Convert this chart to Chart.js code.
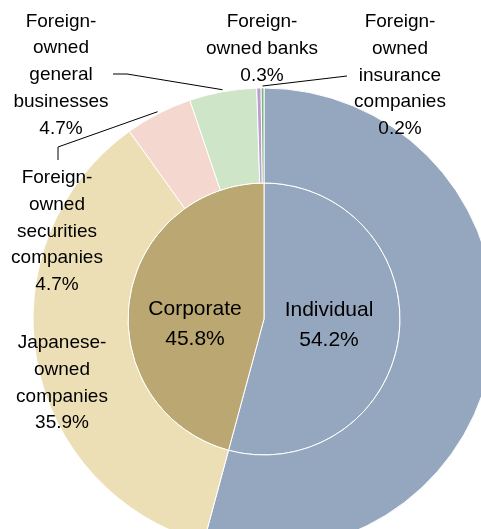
<!DOCTYPE html>
<html lang="en">

<head>
    <meta charset="UTF-8">
    <title>Shareholders by type</title>
    <script src="https://cdn.jsdelivr.net/npm/chart.js"></script>
    <style>
        html, body { margin: 0; padding: 0; background: #fff; overflow: hidden; width: 481px; height: 529px; }
        #pie { position: absolute; left: 0; top: 0; }
    </style>
</head>

<body>
    <canvas id="pie" width="528" height="638"></canvas>

    <script>
        // inner pie: individual vs corporate
        const innerLabels = ['Individual', 'Corporate'];
        const innerValues = [54.2, 45.8];
        const innerColors = ['#95a7bf', '#bba771'];

        // outer ring: corporate split by owner type
        const outerLabels = [
            'Individual',
            'Japanese-owned companies',
            'Foreign-owned securities companies',
            'Foreign-owned general businesses',
            'Foreign-owned banks',
            'Foreign-owned insurance companies'
        ];
        const outerValues = [54.2, 35.9, 4.7, 4.7, 0.3, 0.2];
        const outerColors = ['#95a7bf', '#eddfb5', '#f4d7ce', '#cee5c8', '#b89fcc', '#7fb27c'];

        // wrapped text for each label (percent line is added from the values)
        const innerLines = [['Individual'], ['Corporate']];
        const outerLines = [
            null,
            ['Japanese-', 'owned', 'companies'],
            ['Foreign-', 'owned', 'securities', 'companies'],
            ['Foreign-', 'owned', 'general', 'businesses'],
            ['Foreign-', 'owned banks'],
            ['Foreign-', 'owned', 'insurance', 'companies']
        ];

        // label placement: x centre, first baseline, optional leader start
        const outerLayout = [
            null,
            { x: 62, y: 348 },
            { x: 57, y: 183, leader: [[58, 160], [58, 147]] },
            { x: 61, y: 26.5, leader: [[113, 74], [127, 74]] },
            { x: 262, y: 27 },
            { x: 400, y: 27, leader: [[347, 76]] }
        ];
        const innerLayout = [
            { x: 329, y: 316 },
            { x: 195, y: 315 }
        ];

        const FONT = '"Liberation Sans", Arial, sans-serif';

        const calloutPlugin = {
            id: 'callouts',
            afterDatasetsDraw(chart) {
                const ctx = chart.ctx;
                ctx.save();
                ctx.textAlign = 'center';
                ctx.textBaseline = 'alphabetic';

                // leader lines to the outer ring
                const outerMeta = chart.getDatasetMeta(0);
                ctx.strokeStyle = '#000';
                ctx.lineWidth = 1;
                outerLayout.forEach((pos, i) => {
                    if (!pos || !pos.leader) return;
                    const arc = outerMeta.data[i];
                    const p = arc.getProps(['x', 'y', 'startAngle', 'endAngle', 'outerRadius'], true);
                    const mid = (p.startAngle + p.endAngle) / 2;
                    const r = p.outerRadius + 2;
                    ctx.beginPath();
                    pos.leader.forEach((pt, k) => k === 0 ? ctx.moveTo(pt[0], pt[1]) : ctx.lineTo(pt[0], pt[1]));
                    ctx.lineTo(p.x + Math.cos(mid) * r, p.y + Math.sin(mid) * r);
                    ctx.stroke();
                });

                // outer labels
                ctx.fillStyle = '#000';
                ctx.font = '19px ' + FONT;
                outerLayout.forEach((pos, i) => {
                    if (!pos) return;
                    const lines = outerLines[i].concat([outerValues[i].toFixed(1) + '%']);
                    lines.forEach((t, k) => ctx.fillText(t, pos.x, pos.y + k * 26.8));
                });

                // inner labels
                ctx.font = '21px ' + FONT;
                innerLayout.forEach((pos, i) => {
                    const lines = innerLines[i].concat([innerValues[i].toFixed(1) + '%']);
                    lines.forEach((t, k) => ctx.fillText(t, pos.x, pos.y + k * 29.5));
                });
                ctx.restore();
            }
        };

        new Chart(document.getElementById('pie'), {
            type: 'doughnut',
            data: {
                labels: outerLabels,
                datasets: [{
                    data: outerValues,
                    backgroundColor: outerColors,
                    borderColor: '#fff',
                    borderWidth: 1,
                    weight: 95
                }, {
                    labels: innerLabels,
                    data: innerValues,
                    backgroundColor: innerColors,
                    borderColor: '#fff',
                    borderWidth: 1,
                    weight: 136
                }]
            },
            options: {
                responsive: false,
                animation: false,
                cutout: 0,
                radius: 231,
                hoverOffset: 0,
                layout: { padding: 0 },
                plugins: {
                    legend: { display: false },
                    tooltip: { enabled: false }
                }
            },
            plugins: [calloutPlugin]
        });
    </script>
</body>

</html>
